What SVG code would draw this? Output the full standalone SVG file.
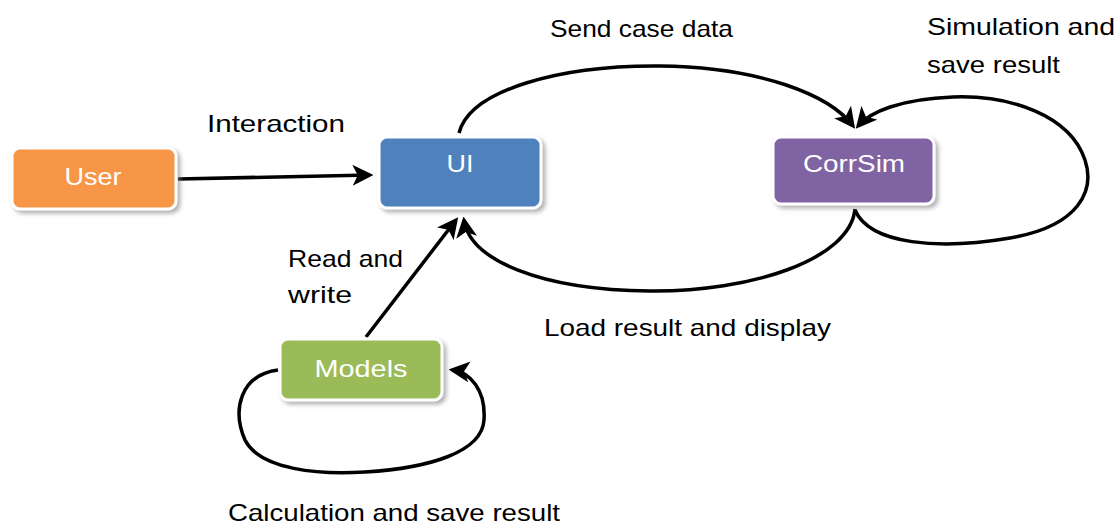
<svg xmlns="http://www.w3.org/2000/svg" width="1120" height="529" viewBox="0 0 1120 529">
<style>
.box{stroke:#ffffff;stroke-width:3;filter:url(#sh)}
.nt{font-family:"Liberation Sans",Arial,sans-serif;font-size:24px;fill:#ffffff;text-anchor:middle}
.lb{font-family:"Liberation Sans",Arial,sans-serif;font-size:24px;fill:#000000}
.c{fill:none;stroke:#000000;stroke-width:3.5}
</style>
<defs>
<filter id="sh" x="-10%" y="-20%" width="130%" height="150%">
<feDropShadow dx="3" dy="3" stdDeviation="2" flood-color="#808080" flood-opacity="0.6"/>
</filter>
<marker id="ah" markerWidth="6" markerHeight="6" refX="5" refY="3" orient="auto" markerUnits="strokeWidth">
<path d="M0,0 L6,3 L0,6 L1.5,3 Z" fill="#000000"/>
</marker>
</defs>
<g id="connectors">
<path class="c" d="M178,179 L370,175" marker-end="url(#ah)"/>
<path class="c" d="M366,337 L456,220" marker-end="url(#ah)"/>
<path class="c" d="M459,133 C470,90 560,65 660,66 C760,67 830,95 853,126" marker-end="url(#ah)"/>
<path class="c" d="M855,209 C850,260 750,292 650,291 C540,290 470,260 464,220" marker-end="url(#ah)"/>
<path class="c" d="M855,210 C870,245 940,250 1010,238 C1080,226 1095,190 1085,160 C1070,115 1010,95 953,97 C900,99 870,112 858,126" marker-end="url(#ah)"/>
<path class="c" d="M278,370 C240,375 232,410 245,440 C260,470 320,475 365,472 C430,468 482,452 484,420 C486,390 470,372 452,370" marker-end="url(#ah)"/>
</g>
<g id="user">
<rect class="box" x="12" y="148" width="164" height="61" rx="8" fill="#F79646"/>
<text class="nt" x="93" y="185" textLength="57" lengthAdjust="spacingAndGlyphs">User</text>
</g>
<g id="ui">
<rect class="box" x="379" y="137" width="162" height="71" rx="8" fill="#4F81BD"/>
<text class="nt" x="460" y="172" textLength="27" lengthAdjust="spacingAndGlyphs">UI</text>
</g>
<g id="corrsim">
<rect class="box" x="773" y="137" width="161" height="67" rx="8" fill="#8064A2"/>
<text class="nt" x="854" y="172" textLength="102" lengthAdjust="spacingAndGlyphs">CorrSim</text>
</g>
<g id="models">
<rect class="box" x="280" y="339" width="162" height="61" rx="8" fill="#9BBB59"/>
<text class="nt" x="361" y="377" textLength="93" lengthAdjust="spacingAndGlyphs">Models</text>
</g>
<g id="labels">
<text class="lb" x="207" y="132" textLength="138" lengthAdjust="spacingAndGlyphs">Interaction</text>
<text class="lb" x="550" y="37" textLength="183" lengthAdjust="spacingAndGlyphs">Send case data</text>
<text class="lb" x="927" y="35" textLength="188" lengthAdjust="spacingAndGlyphs">Simulation and</text>
<text class="lb" x="927" y="73" textLength="133" lengthAdjust="spacingAndGlyphs">save result</text>
<text class="lb" x="288" y="267" textLength="115" lengthAdjust="spacingAndGlyphs">Read and</text>
<text class="lb" x="288" y="303" textLength="64" lengthAdjust="spacingAndGlyphs">write</text>
<text class="lb" x="544" y="336" textLength="287" lengthAdjust="spacingAndGlyphs">Load result and display</text>
<text class="lb" x="228" y="521" textLength="332" lengthAdjust="spacingAndGlyphs">Calculation and save result</text>
</g>
</svg>
